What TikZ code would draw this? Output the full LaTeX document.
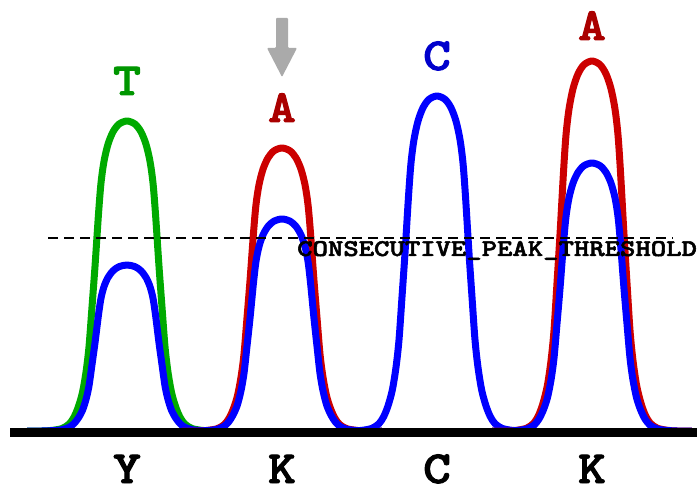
\documentclass[tikz,border=0pt]{standalone}
\usepackage{fontspec}
\newfontfamily\courb{lmmonolt10-bold.otf}[FakeBold=2]
\definecolor{tgreen}{RGB}{0,170,0}
\definecolor{tred}{RGB}{204,0,0}
\definecolor{tblue}{RGB}{0,0,255}
\definecolor{lgreen}{RGB}{0,150,0}
\definecolor{lred}{RGB}{170,0,0}
\definecolor{lblue}{RGB}{0,0,204}
\definecolor{arrowgray}{RGB}{170,170,170}
\newcommand\drawpeak[3]{%
  \draw[trace,#3] plot[smooth] coordinates {
    ({#1-100},431) ({#1-85},431) ({#1-75},{431-#2*0.002}) ({#1-65},{431-#2*0.008})
    ({#1-58},{431-#2*0.022}) ({#1-53.3},{431-#2*0.043}) ({#1-49},{431-#2*0.075})
    ({#1-44.7},{431-#2*0.122}) ({#1-41},{431-#2*0.19}) ({#1-38},{431-#2*0.272})
    ({#1-35},{431-#2*0.40}) ({#1-32},{431-#2*0.531}) ({#1-28.5},{431-#2*0.70})
    ({#1-26},{431-#2*0.80}) ({#1-23},{431-#2*0.87}) ({#1-19},{431-#2*0.925})
    ({#1-14},{431-#2*0.965}) ({#1-8},{431-#2*0.99}) (#1,{431-#2})
    ({#1+8},{431-#2*0.99}) ({#1+14},{431-#2*0.965}) ({#1+19},{431-#2*0.925})
    ({#1+23},{431-#2*0.87}) ({#1+26},{431-#2*0.80}) ({#1+28.5},{431-#2*0.70})
    ({#1+32},{431-#2*0.531}) ({#1+35},{431-#2*0.40}) ({#1+38},{431-#2*0.272})
    ({#1+41},{431-#2*0.19}) ({#1+44.7},{431-#2*0.122}) ({#1+49},{431-#2*0.075})
    ({#1+53.3},{431-#2*0.043}) ({#1+58},{431-#2*0.022}) ({#1+65},{431-#2*0.008})
    ({#1+75},{431-#2*0.002}) ({#1+85},431) ({#1+100},431)
  };
}
\begin{document}
\begin{tikzpicture}[x=1pt,y=-1pt,
  trace/.style={line width=7pt, line join=round},
  callletter/.style={font=\courb\fontsize{46}{46}\selectfont, anchor=base, inner sep=0pt, xscale=1.15},
  thresholdtext/.style={font=\courb\fontsize{24}{24}\selectfont, anchor=base west, inner sep=0pt, xscale=1.22},
]
\useasboundingbox (0,0) rectangle (697,489);
% peak 1
\drawpeak{127}{310}{tgreen}
\drawpeak{127}{166}{tblue}
% peak 2
\drawpeak{282}{283}{tred}
\drawpeak{282}{212}{tblue}
% peak 3
\drawpeak{437}{335}{tblue}
% peak 4
\drawpeak{592}{370}{tred}
\drawpeak{592}{268}{tblue}
% threshold
\draw[line width=2pt, dash pattern=on 10pt off 6pt] (48,238) -- (673,238);
\node[thresholdtext] (thr) at (297,256) {CONSECUTIVE\_PEAK\_THRESHOLD};
% baseline
\draw[line width=9pt] (10,432) -- (697,432);
% top letters
\node[callletter, text=lgreen] (t1) at (127,95) {T};
\node[callletter, text=lred] (t2) at (282,122) {A};
\node[callletter, text=lblue] (t3) at (437,70) {C};
\node[callletter, text=lred] (t4) at (592,40) {A};
% bottom letters
\node[callletter] (b1) at (127,483) {Y};
\node[callletter] (b2) at (282,483) {K};
\node[callletter] (b3) at (437,483) {C};
\node[callletter] (b4) at (592,483) {K};
% gray arrow
\fill[arrowgray, rounded corners=1pt] (276,18) -- (288,18) -- (288,48) -- (297,48) -- (282,77) -- (267,48) -- (276,48) -- cycle;
\end{tikzpicture}
\end{document}
